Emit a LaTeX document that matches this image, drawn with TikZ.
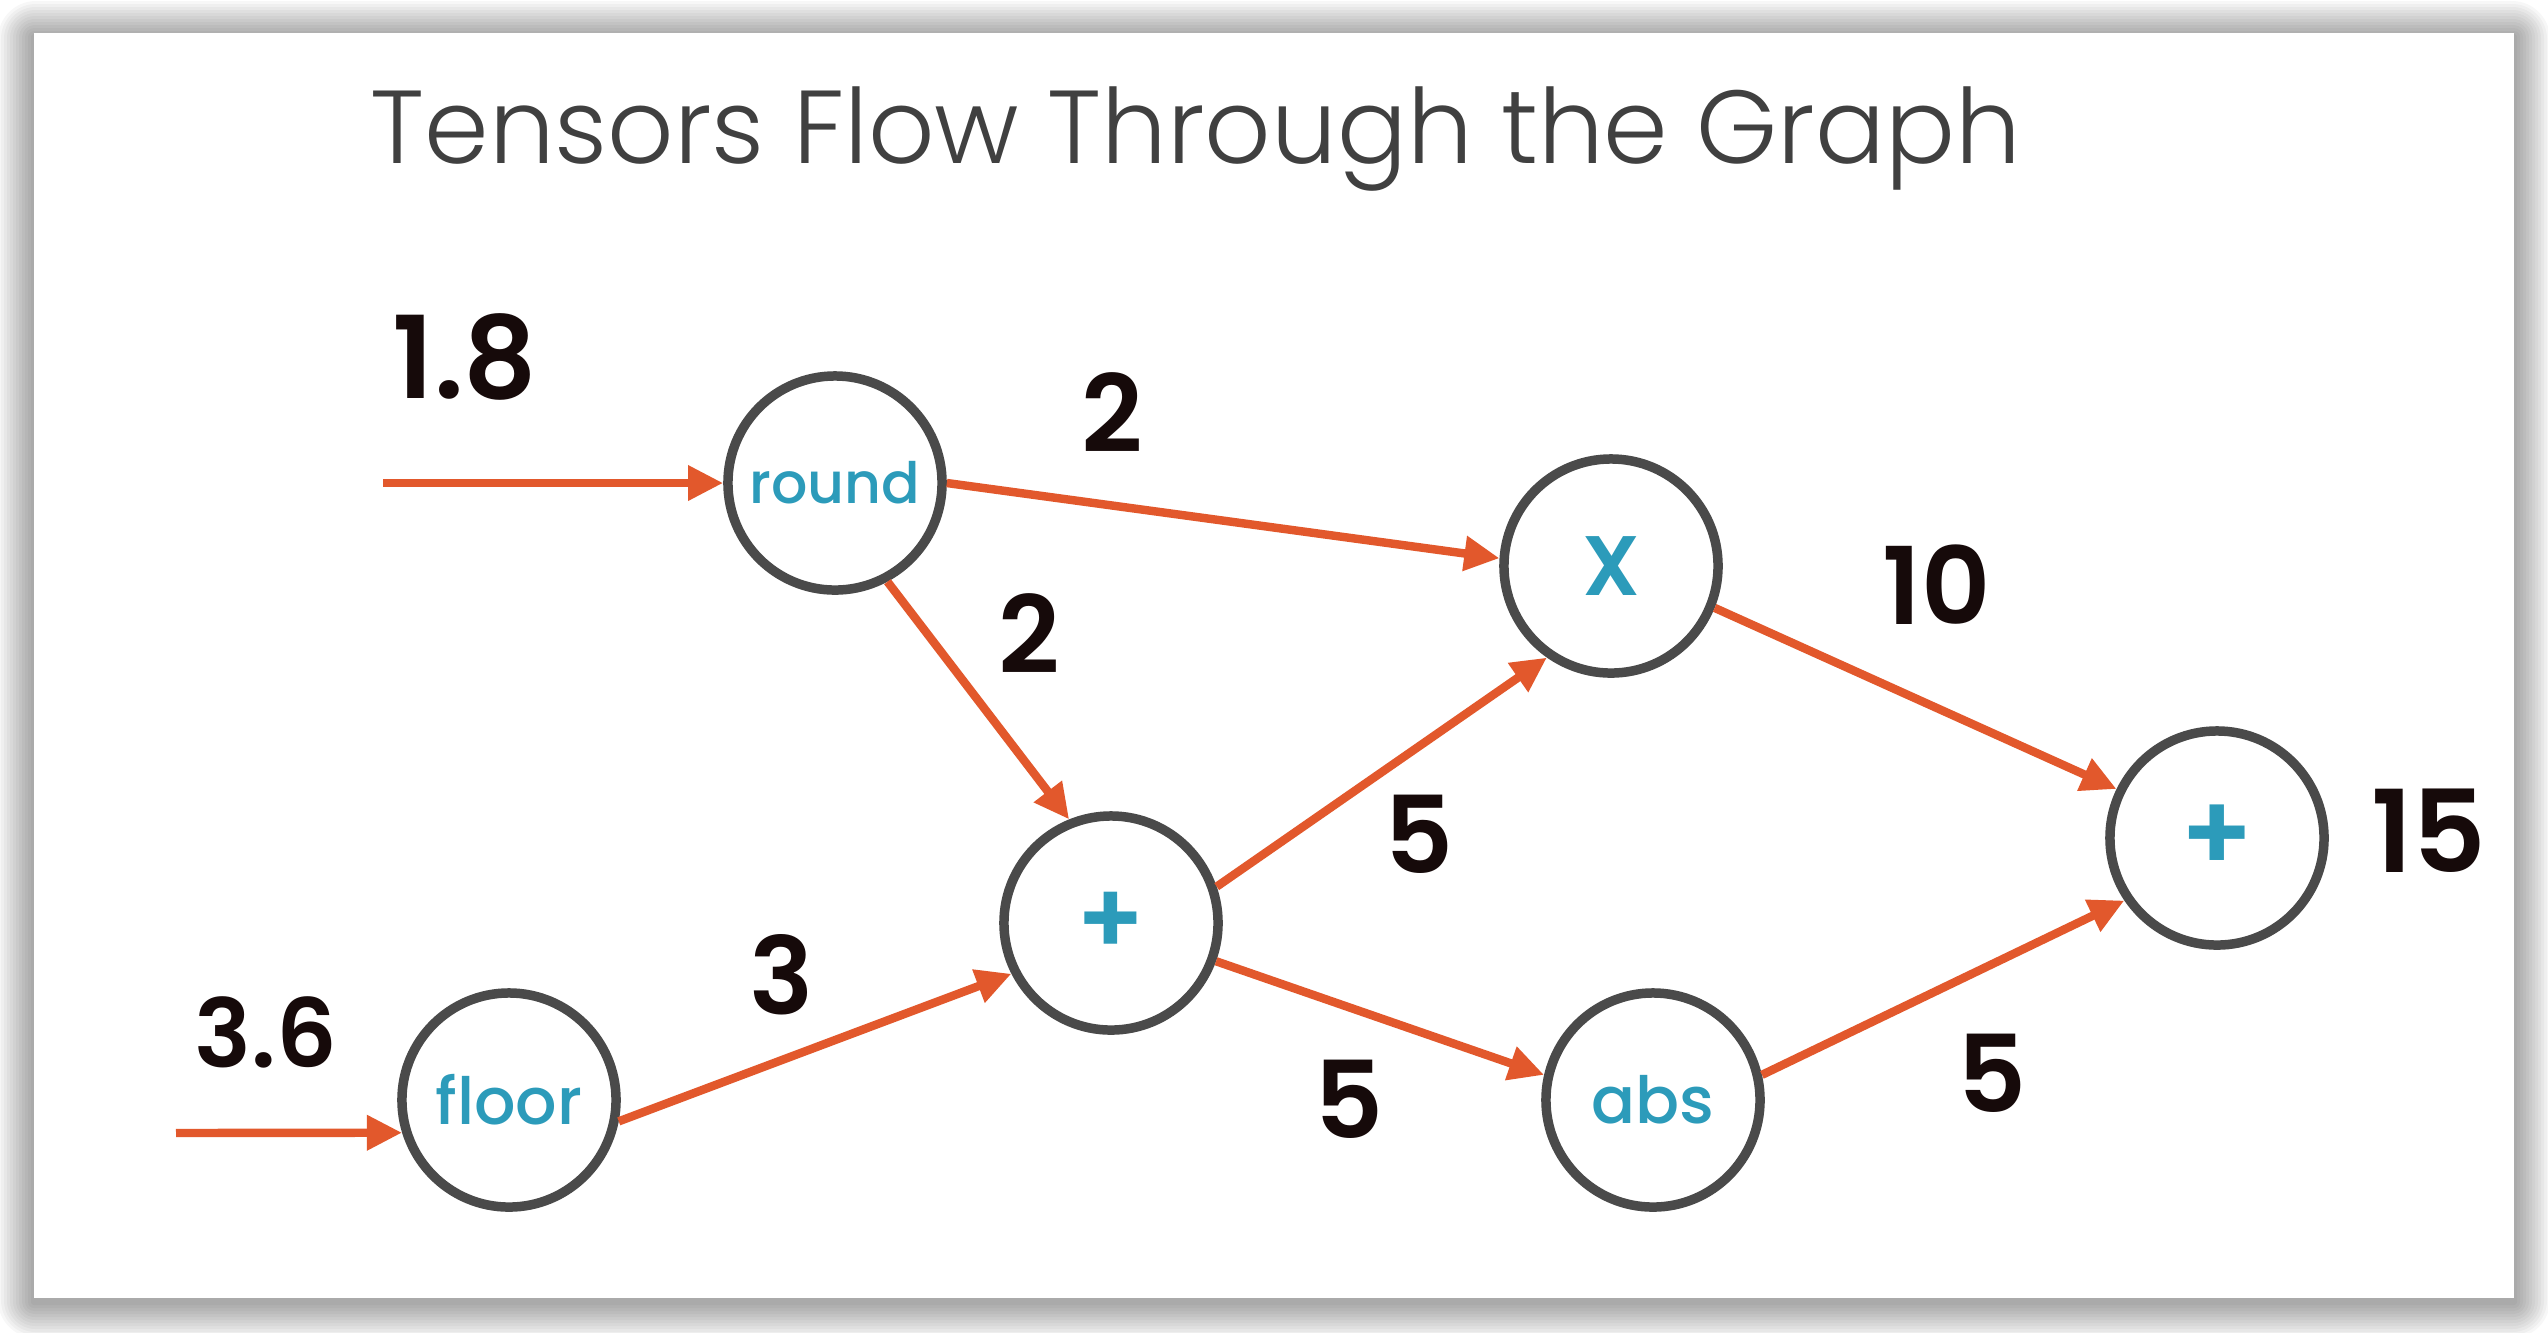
\documentclass[tikz,border=0pt]{standalone}
\usepackage{fontspec}
\setmainfont{Poppins}
\newfontfamily\titlefont{Poppins Light}
\newfontfamily\numfont{Poppins SemiBold}
\newfontfamily\labelfont{Poppins Medium}
\newfontfamily\symfont{Poppins SemiBold}
\usetikzlibrary{arrows.meta}

\definecolor{flowline}{RGB}{226,88,44}
\definecolor{ringgray}{RGB}{74,74,74}
\definecolor{optext}{RGB}{44,155,186}
\definecolor{numtext}{RGB}{22,10,10}
\definecolor{titlegray}{RGB}{64,64,64}

\tikzset{
  opnode/.style={circle, draw=ringgray, line width=2.7pt, fill=white,
    minimum size=2.14cm, inner sep=0pt, text=optext,
    font=\labelfont\fontsize{18.5}{18.5}\selectfont},
  flow/.style={draw=flowline, line width=2.4pt,
    -{Triangle[length=10pt,width=9.5pt]}},
  value/.style={inner sep=0pt, text=numtext,
    font=\numfont\fontsize{30.5}{30.5}\selectfont},
}

\begin{document}
\begin{tikzpicture}[x=0.01cm, y=-0.01cm]
  \useasboundingbox (0,0) rectangle (2548,1332);
  \fill[white] (0,0) rectangle (2548,1332);

  % soft drop shadow around the slide
  \foreach \d in {3,6,...,36} {
    \fill[black, opacity=0.03, rounded corners=\d*0.3pt]
      (34-\d,37-\d) rectangle (2514+\d,1302+\d);
  }
  \fill[white] (34,33) rectangle (2514,1298);

  % title
  \node[anchor=base west, inner sep=0pt, text=titlegray,
        font=\titlefont\fontsize{29.5}{29.5}\selectfont]
    (title) at (370,163) {Tensors Flow Through the Graph};

  % operations
  \node[opnode, font=\labelfont\fontsize{16.2}{16.2}\selectfont] (round) at (835,483) {round};
  \node[opnode] (floor) at (509,1100) {floor};
  \node[opnode, font=\symfont\fontsize{24}{24}\selectfont] (mul) at (1611,566) {X};
  \node[opnode, font=\symfont\fontsize{29}{29}\selectfont] (addA) at (1111,923) {+};
  \node[opnode] (abs) at (1653,1100) {abs};
  \node[opnode, font=\symfont\fontsize{31}{31}\selectfont] (addB) at (2217,838) {+};

  % graph inputs
  \coordinate (inA) at (383,483);
  \coordinate (inB) at (176,1133);

  % tensors flowing along the edges
  \draw[flow] (inA) -- (round.west);
  \draw[flow] (inB) -- (floor.197);
  \draw[flow] (round.east) -- (mul.176);
  \draw[flow] (round.-62) -- (addA.112);
  \draw[flow] (floor.-11) -- (addA.207);
  \draw[flow] (addA.19) -- (mul.235);
  \draw[flow] (addA.-20) -- (abs.167);
  \draw[flow] (mul.-22) -- (addB.154);
  \draw[flow] (abs.13) -- (addB.214);

  % tensor values
  \node[value, font=\numfont\fontsize{32.5}{32.5}\selectfont] (vA) at (465,357) {1.8};
  \node[value, font=\numfont\fontsize{27}{27}\selectfont] (vB) at (266,1032) {3.6};
  \node[value] (vRoundMul) at (1112,413) {2};
  \node[value] (vRoundAdd) at (1029,634) {2};
  \node[value] (vFloor) at (782,975) {3};
  \node[value] (vAddMul) at (1419,834) {5};
  \node[value] (vAddAbs) at (1349,1099) {5};
  \node[value] (vMul) at (1937,585) {10};
  \node[value] (vAbs) at (1992,1073) {5};
  \node[value, font=\numfont\fontsize{32.5}{32.5}\selectfont] (vOut) at (2429,831) {15};
\end{tikzpicture}
\end{document}
